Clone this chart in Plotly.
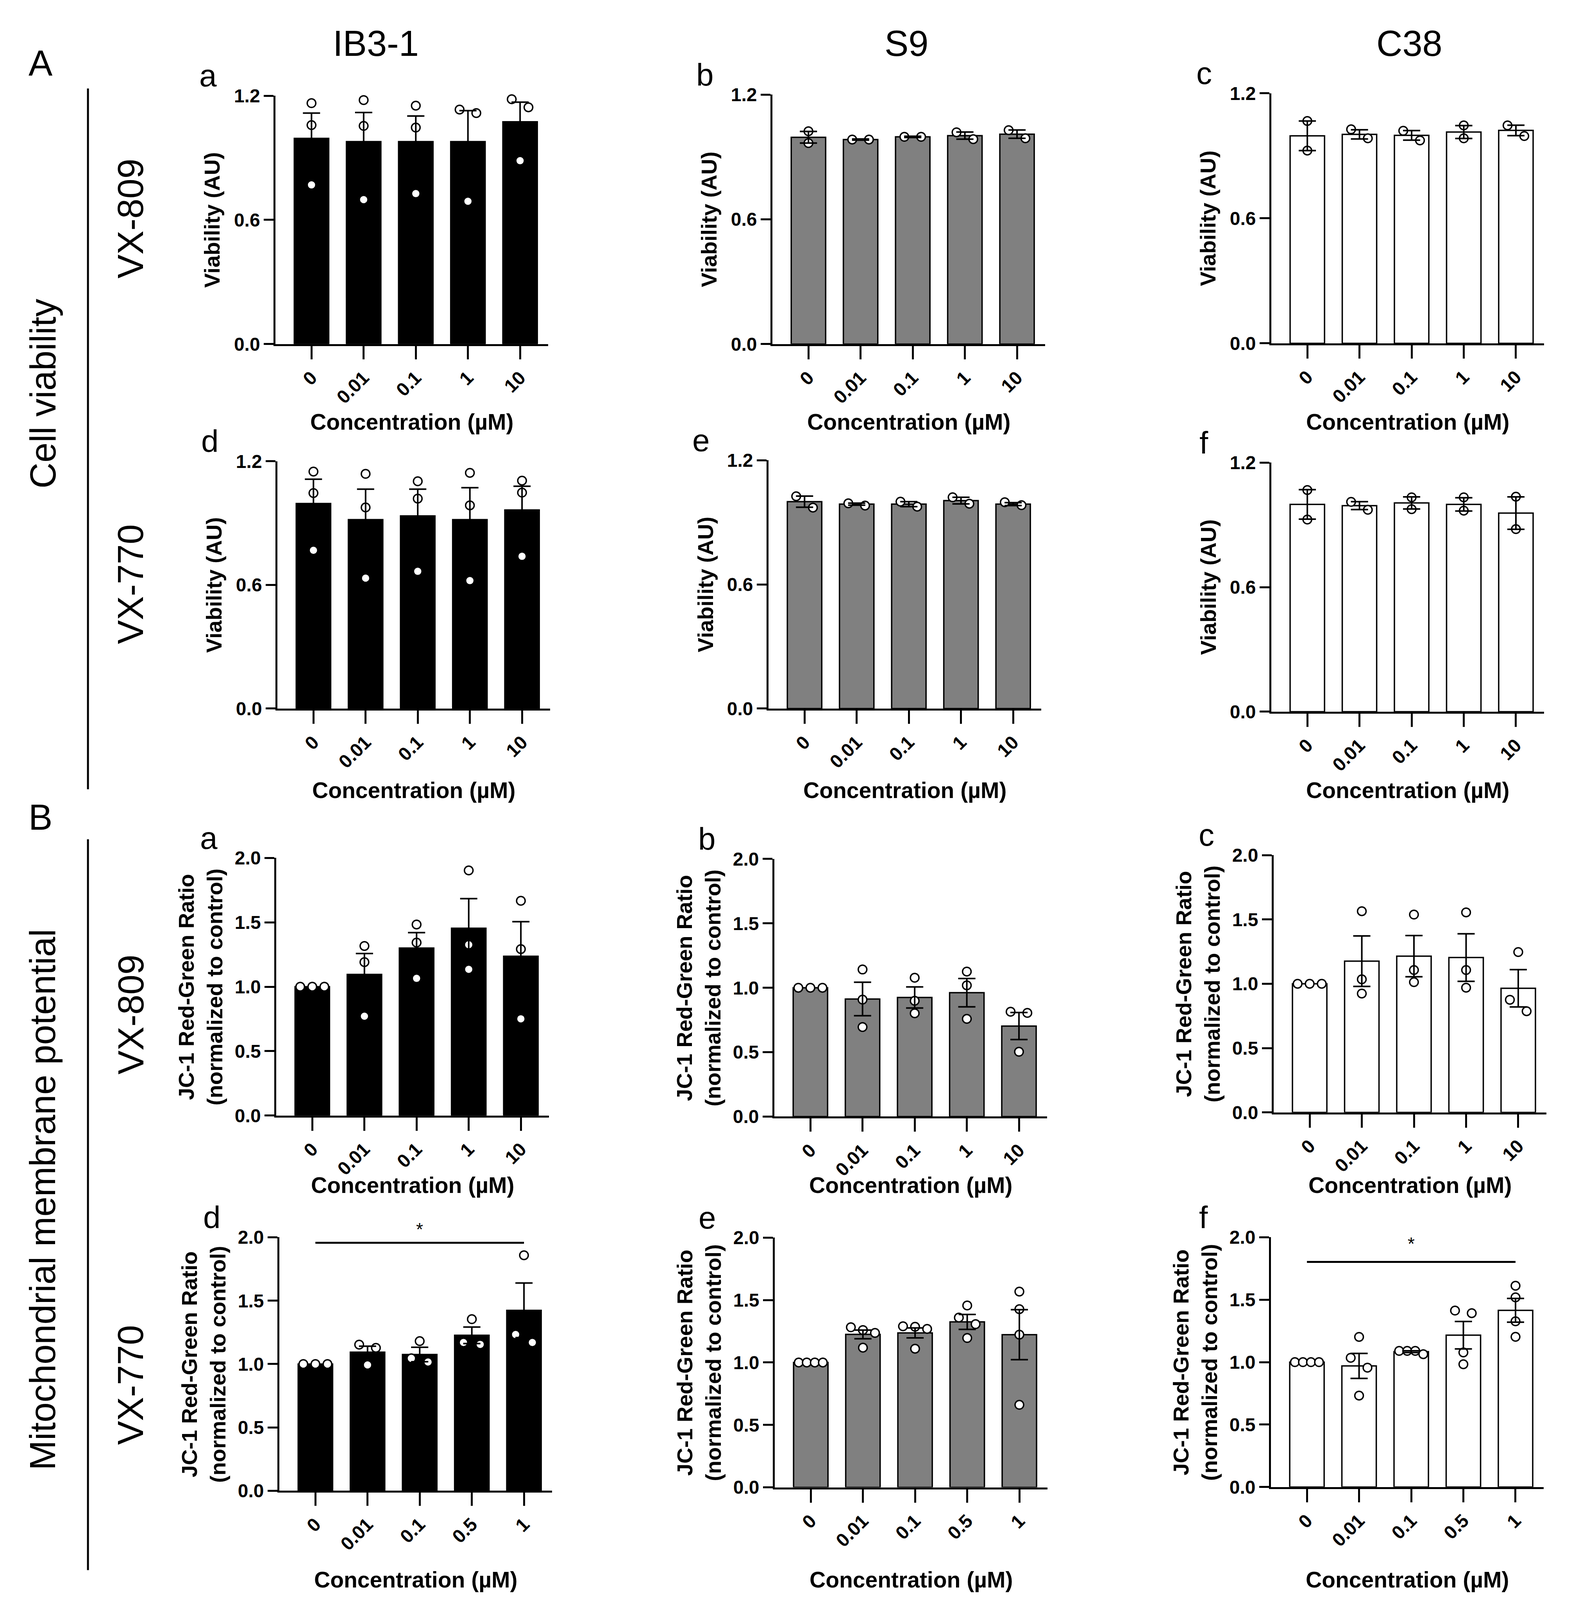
import plotly.graph_objects as go

W, H = 4021, 4561
FONT = 'Liberation Sans, Arial, sans-serif'

# ---- data ----
conc_a = ['0', '0.01', '0.1', '1', '10']
conc_b = ['0', '0.01', '0.1', '0.5', '1']

# A: cell viability, VX-809
via809_ib3_mean = [0.994, 0.978, 0.978, 0.978, 1.074]
via809_ib3_sem = [0.122, 0.141, 0.124, 0.150, 0.095]
via809_ib3_pts = [[1.164, 1.058, 0.769], [1.179, 1.054, 0.698], [1.152, 1.046, 0.727],
                  [1.133, 1.116, 0.690], [1.183, 1.144, 0.886]]
via809_s9_mean = [0.995, 0.984, 0.997, 1.003, 1.010]
via809_s9_sem = [0.028, 0.003, 0.003, 0.017, 0.020]
via809_s9_pts = [[1.024, 0.967], [0.984, 0.984], [0.997, 0.997], [1.019, 0.986], [1.029, 0.990]]
via809_c38_mean = [0.996, 1.003, 0.998, 1.014, 1.022]
via809_c38_sem = [0.071, 0.022, 0.023, 0.031, 0.025]
via809_c38_pts = [[1.067, 0.925], [1.027, 0.984], [1.020, 0.974], [1.046, 0.984], [1.046, 0.995]]

# A: cell viability, VX-770
via770_ib3_mean = [0.995, 0.917, 0.935, 0.917, 0.964]
via770_ib3_sem = [0.118, 0.148, 0.130, 0.155, 0.115]
via770_ib3_pts = [[1.150, 1.046, 0.768], [1.139, 0.976, 0.633], [1.103, 1.019, 0.666],
                  [1.144, 0.986, 0.621], [1.106, 1.048, 0.739]]
via770_s9_mean = [1.000, 0.988, 0.988, 1.005, 0.988]
via770_s9_sem = [0.027, 0.005, 0.012, 0.016, 0.007]
via770_s9_pts = [[1.026, 0.971], [0.992, 0.981], [1.000, 0.976], [1.021, 0.990], [0.997, 0.983]]
via770_c38_mean = [0.999, 0.993, 1.006, 0.999, 0.957]
via770_c38_sem = [0.071, 0.019, 0.029, 0.032, 0.078]
via770_c38_pts = [[1.068, 0.926], [1.011, 0.973], [1.033, 0.976], [1.033, 0.969], [1.036, 0.880]]

# B: JC-1 ratio, VX-809
jc809_ib3_mean = [1.0, 1.096, 1.300, 1.454, 1.237]
jc809_ib3_sem = [0.0, 0.162, 0.120, 0.230, 0.268]
jc809_ib3_pts = [[1.0, 1.0, 1.0], [1.316, 1.191, 0.771], [1.483, 1.343, 1.065],
                 [1.903, 1.326, 1.135], [1.667, 1.292, 0.751]]
jc809_s9_mean = [1.0, 0.913, 0.925, 0.962, 0.703]
jc809_s9_sem = [0.0, 0.130, 0.082, 0.110, 0.105]
jc809_s9_pts = [[1.0, 1.0, 1.0], [1.142, 0.908, 0.695], [1.078, 0.899, 0.802],
                [1.126, 1.019, 0.759], [0.814, 0.805, 0.503]]
jc809_c38_mean = [1.0, 1.176, 1.215, 1.204, 0.965]
jc809_c38_sem = [0.0, 0.196, 0.160, 0.185, 0.145]
jc809_c38_pts = [[1.0, 1.0, 1.0], [1.564, 1.035, 0.924], [1.538, 1.107, 1.013],
                 [1.555, 1.107, 0.970], [1.247, 0.876, 0.787]]

# B: JC-1 ratio, VX-770
jc770_ib3_mean = [1.0, 1.094, 1.075, 1.227, 1.424]
jc770_ib3_sem = [0.0, 0.047, 0.057, 0.065, 0.215]
jc770_ib3_pts = [[1.0, 1.0, 1.0], [1.153, 1.128, 0.993], [1.181, 1.045, 1.016],
                 [1.354, 1.170, 1.155], [1.858, 1.233, 1.170]]
jc770_s9_mean = [1.0, 1.225, 1.237, 1.325, 1.223]
jc770_s9_sem = [0.0, 0.035, 0.040, 0.060, 0.200]
jc770_s9_pts = [[1.0, 1.0, 1.0, 1.0], [1.282, 1.260, 1.237, 1.119], [1.290, 1.286, 1.269, 1.110],
                [1.457, 1.360, 1.307, 1.196], [1.568, 1.427, 1.223, 0.661]]
jc770_c38_mean = [1.0, 0.970, 1.084, 1.216, 1.415]
jc770_c38_sem = [0.0, 0.100, 0.007, 0.110, 0.095]
jc770_c38_pts = [[1.0, 1.0, 1.0, 1.0], [1.202, 1.035, 0.956, 0.732], [1.090, 1.090, 1.090, 1.064],
                 [1.413, 1.392, 1.078, 0.983], [1.612, 1.519, 1.327, 1.203]]

# significance bars (0 vs highest dose): line level, star level
sig_770_ib3 = [1.957, 2.05]
sig_770_c38 = [1.803, 1.93]

BLACK, GREY, WHITE = '#000000', '#808080', '#ffffff'

# panel list: (letter, mean, sem, points, labels, ymax, yticks, fill, x0 px, top px, bottom px, sig)
panels = [
    ('a', via809_ib3_mean, via809_ib3_sem, via809_ib3_pts, conc_a, 1.2, [0, 0.6, 1.2], BLACK, 700, 239, 959, None),
    ('b', via809_s9_mean, via809_s9_sem, via809_s9_pts, conc_a, 1.2, [0, 0.6, 1.2], GREY, 1977, 236, 959, None),
    ('c', via809_c38_mean, via809_c38_sem, via809_c38_pts, conc_a, 1.2, [0, 0.6, 1.2], WHITE, 3259, 232, 957, None),
    ('d', via770_ib3_mean, via770_ib3_sem, via770_ib3_pts, conc_a, 1.2, [0, 0.6, 1.2], BLACK, 705, 1299, 2016, None),
    ('e', via770_s9_mean, via770_s9_sem, via770_s9_pts, conc_a, 1.2, [0, 0.6, 1.2], GREY, 1967, 1296, 2016, None),
    ('f', via770_c38_mean, via770_c38_sem, via770_c38_pts, conc_a, 1.2, [0, 0.6, 1.2], WHITE, 3259, 1303, 2025, None),
    ('a', jc809_ib3_mean, jc809_ib3_sem, jc809_ib3_pts, conc_a, 2.0, [0, 0.5, 1, 1.5, 2], BLACK, 702, 2449, 3196, None),
    ('b', jc809_s9_mean, jc809_s9_sem, jc809_s9_pts, conc_a, 2.0, [0, 0.5, 1, 1.5, 2], GREY, 1982, 2452, 3199, None),
    ('c', jc809_c38_mean, jc809_c38_sem, jc809_c38_pts, conc_a, 2.0, [0, 0.5, 1, 1.5, 2], WHITE, 3265, 2441, 3187, None),
    ('d', jc770_ib3_mean, jc770_ib3_sem, jc770_ib3_pts, conc_b, 2.0, [0, 0.5, 1, 1.5, 2], BLACK, 710, 3549, 4284, sig_770_ib3),
    ('e', jc770_s9_mean, jc770_s9_sem, jc770_s9_pts, conc_b, 2.0, [0, 0.5, 1, 1.5, 2], GREY, 1983, 3550, 4274, None),
    ('f', jc770_c38_mean, jc770_c38_sem, jc770_c38_pts, conc_b, 2.0, [0, 0.5, 1, 1.5, 2], WHITE, 3258, 3549, 4273, sig_770_c38),
]
xtitle_y = [1185, 1185, 1185, 2253, 2253, 2253, 3398, 3398, 3398, 4542, 4542, 4542]

XR = [-0.69, 4.54]
CAT_PX = 134.0
AX_W = CAT_PX * (XR[1] - XR[0])


def px(x):
    return x / W


def py(y):
    return 1 - y / H


def note(x, y, text, size, bold=False, angle=0):
    f = dict(family=FONT, size=size, color=BLACK)
    if bold:
        f['weight'] = 'bold'
    return dict(x=px(x), y=py(y), xref='paper', yref='paper', text=text, textangle=angle,
                xanchor='center', yanchor='middle', showarrow=False, font=f)


def swarm(vals, px_per_unit):
    # spread overlapping replicates sideways, higher value on the left
    order = sorted(range(len(vals)), key=lambda i: -vals[i])
    groups = []
    for i in order:
        if groups and (vals[groups[-1][-1]] - vals[i]) * px_per_unit < 33.5:
            groups[-1].append(i)
        else:
            groups.append([i])
    offs = [0.0] * len(vals)
    for g in groups:
        k = len(g)
        if k > 1:
            step = min(43.0, 62.0 / (k - 1))
            for j, i in enumerate(g):
                offs[i] = (j - (k - 1) / 2) * step / CAT_PX
    return offs


fig = go.Figure()
annotations = []
layout = {}

for n, (letter, mean, sem, pts, labels, ymax, yticks, fill, x0, top, bot, sig) in enumerate(panels, start=1):
    xa = 'x' if n == 1 else 'x%d' % n
    ya = 'y' if n == 1 else 'y%d' % n
    xs = list(range(len(labels)))

    fig.add_trace(go.Bar(x=xs, y=mean, width=0.66, xaxis=xa, yaxis=ya,
                         marker=dict(color=fill, line=dict(color=BLACK, width=3.5)),
                         showlegend=False, hoverinfo='skip'))

    per_unit = (bot - top) / ymax
    px_list, py_list = [], []
    for i, vals in enumerate(pts):
        offs = swarm(vals, per_unit)
        for v, o in zip(vals, offs):
            px_list.append(i + o)
            py_list.append(v)
    fig.add_trace(go.Scatter(x=px_list, y=py_list, mode='markers', xaxis=xa, yaxis=ya,
                             marker=dict(symbol='circle', size=22, color=WHITE,
                                         line=dict(color=BLACK, width=3.5)),
                             cliponaxis=False, showlegend=False, hoverinfo='skip'))

    ex = [i for i in xs if sem[i] > 0]
    fig.add_trace(go.Scatter(x=ex, y=[mean[i] for i in ex], mode='markers', xaxis=xa, yaxis=ya,
                             marker=dict(size=1, opacity=0),
                             error_y=dict(type='data', array=[sem[i] for i in ex],
                                          color=BLACK, thickness=4, width=22),
                             cliponaxis=False, showlegend=False, hoverinfo='skip'))

    if sig:
        fig.add_trace(go.Scatter(x=[0, len(xs) - 1], y=[sig[0], sig[0]], mode='lines',
                                 xaxis=xa, yaxis=ya, line=dict(color=BLACK, width=5),
                                 cliponaxis=False, showlegend=False, hoverinfo='skip'))
        # star anchored on the line (kept inside the axis range so it is not dropped)
        annotations.append(dict(x=(len(xs) - 1) / 2, y=sig[0], xref=xa, yref=ya, text='*',
                                xanchor='center', yanchor='middle',
                                yshift=(sig[1] - sig[0]) * per_unit, showarrow=False,
                                font=dict(family=FONT, size=46, color=BLACK)))

    layout['xaxis' if n == 1 else 'xaxis%d' % n] = dict(
        domain=[px(x0), px(x0 + AX_W)], anchor=ya, range=XR,
        tickmode='array', tickvals=xs, ticktext=labels, tickangle=-45,
        showline=True, linewidth=5, linecolor=BLACK, ticks='outside', ticklen=34,
        tickwidth=5, tickcolor=BLACK, showgrid=False, zeroline=False,
        tickfont=dict(family=FONT, size=48, color=BLACK, weight='bold'))
    layout['yaxis' if n == 1 else 'yaxis%d' % n] = dict(
        domain=[py(bot), py(top)], anchor=xa, range=[0, ymax],
        tickmode='array', tickvals=yticks, tickformat='.1f',
        showline=True, linewidth=5, linecolor=BLACK, ticks='outside', ticklen=25,
        tickwidth=5, tickcolor=BLACK, showgrid=False, zeroline=False,
        tickfont=dict(family=FONT, size=48, color=BLACK, weight='bold'))

    annotations.append(note(x0 - 173, top - 58, letter, 80))
    annotations.append(note(x0 + AX_W / 2, xtitle_y[n - 1], 'Concentration (µM)', 57, bold=True))
    if ymax < 1.5:
        annotations.append(note(x0 - 163, (top + bot) / 2, 'Viability (AU)', 56, bold=True, angle=-90))
    else:
        annotations.append(note(x0 - 195, (top + bot) / 2,
                                'JC-1 Red-Green Ratio<br>(normalized to control)', 56, bold=True, angle=-90))

# headers and row labels
for txt, x, y in [('IB3-1', 958, 87), ('S9', 2322, 87), ('C38', 3614, 87),
                  ('A', 96, 145), ('B', 96, 2331)]:
    annotations.append(note(x, y, txt, 92))
for txt, x, y in [('Cell viability', 102, 1103), ('Mitochondrial membrane potential', 102, 3440),
                  ('VX-809', 328, 595), ('VX-770', 328, 1655),
                  ('VX-809', 328, 2903), ('VX-770', 328, 3977)]:
    annotations.append(note(x, y, txt, 92, angle=-90))

shapes = [
    dict(type='line', xref='paper', yref='paper', x0=px(218), x1=px(218), y0=py(218), y1=py(2250),
         line=dict(color=BLACK, width=5)),
    dict(type='line', xref='paper', yref='paper', x0=px(218), x1=px(218), y0=py(2395), y1=py(4514),
         line=dict(color=BLACK, width=5)),
]

# size follows the browser window (4021x4561 target) so the whole figure stays on screen
fig.update_layout(autosize=True, margin=dict(l=0, r=0, t=0, b=0),
                  paper_bgcolor='white', plot_bgcolor='white',
                  annotations=annotations, shapes=shapes, **layout)

fig.write_html('out.html')
